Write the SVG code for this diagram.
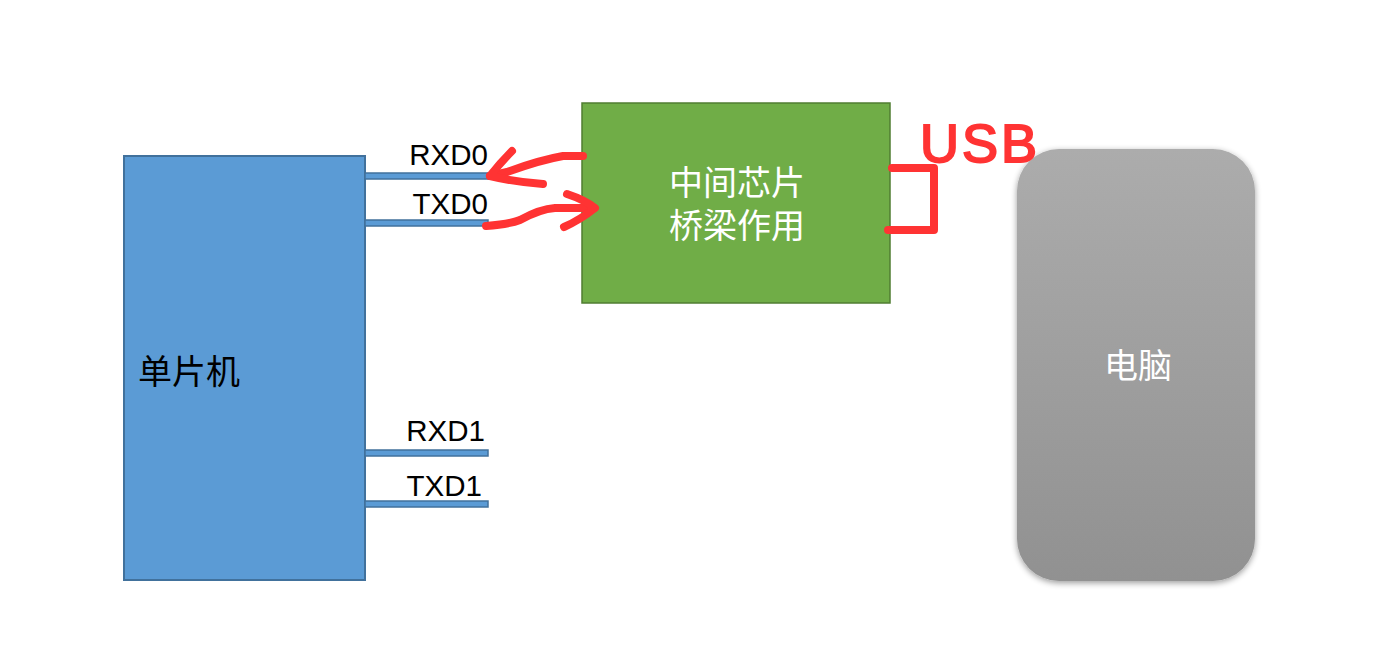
<svg xmlns="http://www.w3.org/2000/svg" width="1383" height="666" viewBox="0 0 1383 666">
<style>
.lbl{font-family:"Liberation Sans","Noto Sans CJK SC",sans-serif;font-size:29.5px;fill:#000;text-anchor:end}
.cjk{font-family:"Noto Sans CJK SC","Liberation Sans",sans-serif;font-size:34px}
.pin{fill:#5B9BD5;stroke:#41719C;stroke-width:1.5}
.red{fill:none;stroke:#FF3333;stroke-width:8;stroke-linecap:round;stroke-linejoin:round}
</style>
<defs>
<linearGradient id="pcg" x1="0" y1="0" x2="0" y2="1">
<stop offset="0" stop-color="#ACACAC"/>
<stop offset="1" stop-color="#919191"/>
</linearGradient>
<filter id="sh" x="-10%" y="-10%" width="120%" height="120%">
<feGaussianBlur in="SourceAlpha" stdDeviation="3"/>
<feOffset dx="0" dy="2"/>
<feComponentTransfer><feFuncA type="linear" slope="0.4"/></feComponentTransfer>
<feMerge><feMergeNode/><feMergeNode in="SourceGraphic"/></feMerge>
</filter>
</defs>
<rect width="1383" height="666" fill="#fff"/>
<g id="mcu">
<rect x="124" y="156" width="241" height="424" fill="#5B9BD5" stroke="#41719C" stroke-width="2"/>
<text class="cjk" x="138" y="384" fill="#000">单片机</text>
</g>
<g id="pins">
<rect class="pin" x="365" y="173" width="123" height="6"/>
<rect class="pin" x="365" y="220" width="123" height="6"/>
<rect class="pin" x="365" y="450" width="123" height="6"/>
<rect class="pin" x="365" y="501" width="123" height="6"/>
<text class="lbl" x="488" y="165">RXD0</text>
<text class="lbl" x="488" y="214">TXD0</text>
<text class="lbl" x="485" y="441">RXD1</text>
<text class="lbl" x="482" y="496">TXD1</text>
</g>
<g id="bridge">
<rect x="582" y="103" width="308" height="200" fill="#70AD47" stroke="#507E32" stroke-width="1.5"/>
<text class="cjk" x="737" y="195" fill="#fff" text-anchor="middle" font-size="32.5">中间芯片</text>
<text class="cjk" x="737" y="238" fill="#fff" text-anchor="middle" font-size="32.5">桥梁作用</text>
</g>
<g id="pc">
<rect x="1017" y="149" width="238" height="432" rx="42" ry="42" fill="url(#pcg)" filter="url(#sh)"/>
<text class="cjk" x="1138" y="378" fill="#fff" text-anchor="middle">电脑</text>
</g>
<g id="connectors">
<path class="red" d="M583,156 L563,156 Q540,160 507,172 L490,176"/>
<path class="red" d="M512,151 Q500,163 490,176 Q515,182 543,184"/>
<path class="red" d="M486,226 Q510,224 520,220 Q540,209 555,208 L594,208"/>
<path class="red" d="M567,194 Q585,200 595,208 Q580,220 564,227"/>
<path class="red" d="M892,168 L934,168 L934,230 L888,230"/>
<text x="920" y="162" font-family="Liberation Sans,sans-serif" font-size="54" fill="#FF3333" stroke="#FF3333" stroke-width="2" letter-spacing="3">USB</text>
</g>
</svg>
